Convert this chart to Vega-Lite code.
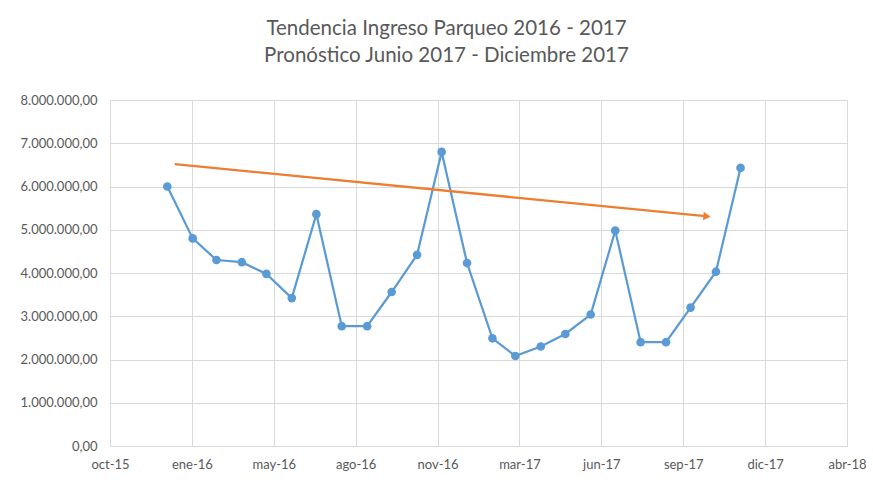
{
  "$schema": "https://vega.github.io/schema/vega-lite/v6.json",
  "width": 737,
  "height": 346,
  "autosize": {"type": "none"},
  "padding": {"left": 110, "top": 100, "right": 26, "bottom": 37},
  "background": "white",
  "title": {
    "text": ["Tendencia Ingreso Parqueo 2016 - 2017", "Pronóstico Junio 2017 - Diciembre 2017"],
    "font": "Lato",
    "fontSize": 20.5,
    "fontWeight": "normal",
    "color": "#595959",
    "lineHeight": 27,
    "anchor": "middle",
    "dx": -32,
    "offset": 28
  },
  "config": {
    "locale": {"number": {"decimal": ",", "thousands": ".", "grouping": [3], "currency": ["", ""]}},
    "view": {"stroke": null},
    "axis": {"labelFont": "Lato", "labelFontSize": 13, "labelColor": "#595959", "gridColor": "#d9d9d9", "gridWidth": 1, "domain": false, "ticks": false}
  },
  "datasets": {
    "ingreso": [
      {"fecha": "2016-01-01", "valor": 6000000},
      {"fecha": "2016-02-01", "valor": 4800000},
      {"fecha": "2016-03-01", "valor": 4300000},
      {"fecha": "2016-04-01", "valor": 4250000},
      {"fecha": "2016-05-01", "valor": 3980000},
      {"fecha": "2016-06-01", "valor": 3420000},
      {"fecha": "2016-07-01", "valor": 5360000},
      {"fecha": "2016-08-01", "valor": 2770000},
      {"fecha": "2016-09-01", "valor": 2770000},
      {"fecha": "2016-10-01", "valor": 3560000},
      {"fecha": "2016-11-01", "valor": 4420000},
      {"fecha": "2016-12-01", "valor": 6800000},
      {"fecha": "2017-01-01", "valor": 4230000},
      {"fecha": "2017-02-01", "valor": 2490000},
      {"fecha": "2017-03-01", "valor": 2080000},
      {"fecha": "2017-04-01", "valor": 2300000},
      {"fecha": "2017-05-01", "valor": 2590000},
      {"fecha": "2017-06-01", "valor": 3040000},
      {"fecha": "2017-07-01", "valor": 4980000},
      {"fecha": "2017-08-01", "valor": 2400000},
      {"fecha": "2017-09-01", "valor": 2400000},
      {"fecha": "2017-10-01", "valor": 3200000},
      {"fecha": "2017-11-01", "valor": 4030000},
      {"fecha": "2017-12-01", "valor": 6430000}
    ],
    "flecha": [
      {"fecha": "2016-01-10", "valor": 6520000, "fecha2": "2017-10-19", "valor2": 5313000}
    ],
    "punta": [
      {"fecha": "2017-10-21", "valor": 5309000}
    ]
  },
  "layer": [
    {
      "data": {"name": "ingreso"},
      "mark": {"type": "line", "color": "#5B9BD5", "strokeWidth": 2.25, "point": {"filled": true, "size": 75, "color": "#5B9BD5"}},
      "encoding": {
        "x": {
          "field": "fecha", "type": "temporal", "title": null,
          "scale": {"type": "utc", "domain": [{"year": 2015, "month": 10, "date": 23, "utc": true}, {"year": 2018, "month": 4, "date": 10, "utc": true}]},
          "axis": {
            "values": [
              {"year": 2015, "month": 10, "date": 23, "utc": true},
              {"year": 2016, "month": 1, "date": 31, "utc": true},
              {"year": 2016, "month": 5, "date": 10, "utc": true},
              {"year": 2016, "month": 8, "date": 18, "utc": true},
              {"year": 2016, "month": 11, "date": 26, "utc": true},
              {"year": 2017, "month": 3, "date": 6, "utc": true},
              {"year": 2017, "month": 6, "date": 14, "utc": true},
              {"year": 2017, "month": 9, "date": 22, "utc": true},
              {"year": 2017, "month": 12, "date": 31, "utc": true},
              {"year": 2018, "month": 4, "date": 10, "utc": true}
            ],
            "labelExpr": "['ene','feb','mar','abr','may','jun','jul','ago','sep','oct','nov','dic'][utcmonth(datum.value)] + '-' + utcFormat(datum.value, '%y')",
            "labelFlush": false,
            "labelOverlap": false,
            "labelPadding": 12,
            "grid": true,
            "domain": true,
            "domainColor": "#d9d9d9"
          }
        },
        "y": {
          "field": "valor", "type": "quantitative", "title": null,
          "scale": {"domain": [0, 8000000], "nice": false},
          "axis": {"values": [0, 1000000, 2000000, 3000000, 4000000, 5000000, 6000000, 7000000, 8000000], "format": ",.2f", "labelPadding": 13, "grid": true}
        }
      }
    },
    {
      "data": {"name": "flecha"},
      "mark": {"type": "rule", "color": "#ED7D31", "strokeWidth": 2.25},
      "encoding": {
        "x": {"field": "fecha", "type": "temporal"},
        "y": {"field": "valor", "type": "quantitative"},
        "x2": {"field": "fecha2"},
        "y2": {"field": "valor2"}
      }
    },
    {
      "data": {"name": "punta"},
      "mark": {"type": "point", "shape": "triangle-right", "filled": true, "color": "#ED7D31", "opacity": 1, "size": 70, "angle": 5.6},
      "encoding": {
        "x": {"field": "fecha", "type": "temporal"},
        "y": {"field": "valor", "type": "quantitative"}
      }
    }
  ]
}
